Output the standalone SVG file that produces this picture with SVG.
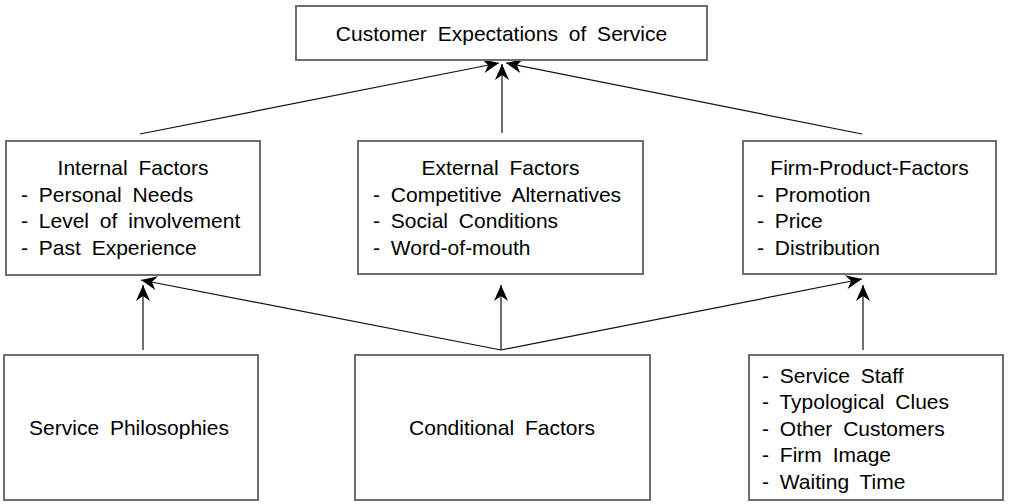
<svg xmlns="http://www.w3.org/2000/svg" width="1020" height="504" viewBox="0 0 1020 504">
<defs>
<style>
.box{fill:#fff;stroke:#6e6e6e;stroke-width:2}
.t{font-family:"Liberation Sans",Arial,sans-serif;font-size:21px;word-spacing:5px;fill:#000}
.c{text-anchor:middle}
.ln{stroke:#111;stroke-width:1.2;fill:none;marker-end:url(#ah)}
</style>
<marker id="ah" markerUnits="userSpaceOnUse" markerWidth="18" markerHeight="16" viewBox="0 0 18 16" refX="17" refY="8" orient="auto">
<path d="M17,8 L1,1 L6,8 L1,15 z" fill="#000"/>
</marker>
</defs>
<rect width="1020" height="504" fill="#fff"/>
<g id="connectors">
<line class="ln" x1="140" y1="134" x2="499" y2="63"/>
<line class="ln" x1="502" y1="133" x2="502" y2="64"/>
<line class="ln" x1="862" y1="134" x2="506" y2="63"/>
<line class="ln" x1="501" y1="350" x2="141" y2="280"/>
<line class="ln" x1="143" y1="350" x2="143" y2="285"/>
<line class="ln" x1="501" y1="350" x2="501" y2="285"/>
<line class="ln" x1="501" y1="350" x2="862" y2="279"/>
<line class="ln" x1="863" y1="350" x2="863" y2="285"/>
</g>
<g id="customer-expectations">
<rect class="box" x="296" y="6" width="411" height="54"/>
<text class="t c" x="501.5" y="41">Customer Expectations of Service</text>
</g>
<g id="internal-factors">
<rect class="box" x="6" y="141" width="254" height="134"/>
<text class="t c" x="133" y="175">Internal Factors</text>
<text class="t" x="21" y="201.5">- Personal Needs</text>
<text class="t" x="21" y="228">- Level of involvement</text>
<text class="t" x="21" y="254.5">- Past Experience</text>
</g>
<g id="external-factors">
<rect class="box" x="358" y="141" width="285" height="133"/>
<text class="t c" x="500.5" y="175">External Factors</text>
<text class="t" x="373" y="201.5">- Competitive Alternatives</text>
<text class="t" x="373" y="228">- Social Conditions</text>
<text class="t" x="373" y="254.5">- Word-of-mouth</text>
</g>
<g id="firm-product-factors">
<rect class="box" x="743" y="141" width="253" height="133"/>
<text class="t c" x="869.5" y="175">Firm-Product-Factors</text>
<text class="t" x="757" y="201.5">- Promotion</text>
<text class="t" x="757" y="228">- Price</text>
<text class="t" x="757" y="254.5">- Distribution</text>
</g>
<g id="service-philosophies">
<rect class="box" x="4" y="355" width="254" height="145"/>
<text class="t c" x="129" y="435">Service Philosophies</text>
</g>
<g id="conditional-factors">
<rect class="box" x="355" y="355" width="295" height="145"/>
<text class="t c" x="502" y="435">Conditional Factors</text>
</g>
<g id="situational-factors">
<rect class="box" x="749" y="355" width="254" height="145"/>
<text class="t" x="762" y="382.5">- Service Staff</text>
<text class="t" x="762" y="409">- Typological Clues</text>
<text class="t" x="762" y="435.5">- Other Customers</text>
<text class="t" x="762" y="462">- Firm Image</text>
<text class="t" x="762" y="488.5">- Waiting Time</text>
</g>
</svg>
